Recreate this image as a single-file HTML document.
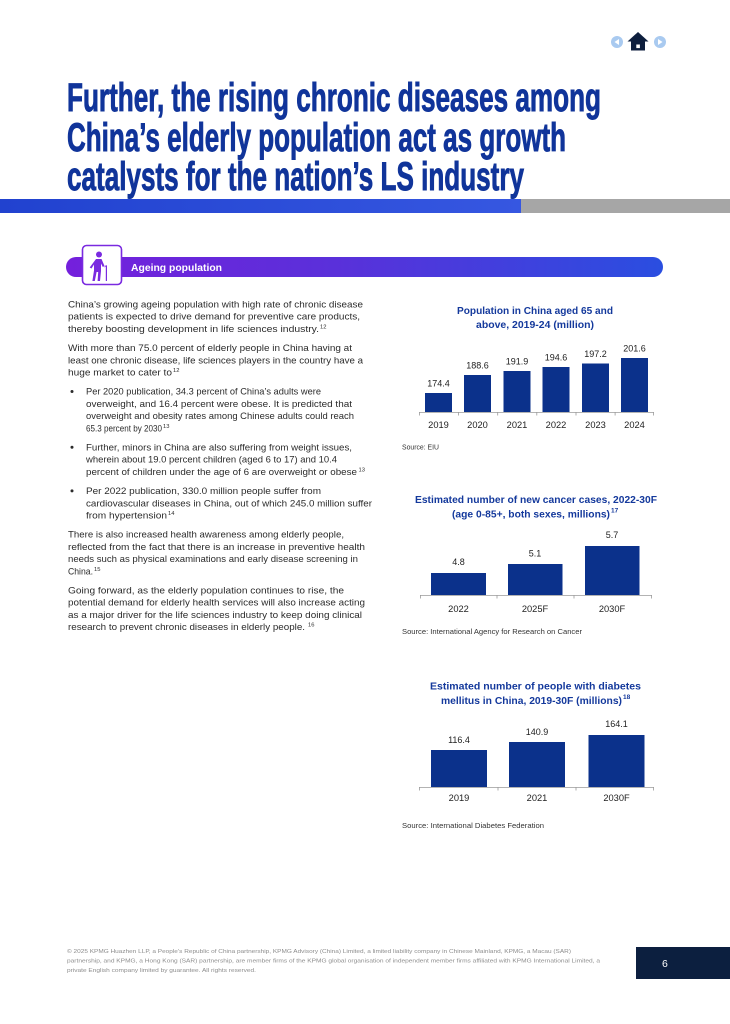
<!DOCTYPE html>
<html>
<head>
<meta charset="utf-8">
<style>
  html,body{margin:0;padding:0;background:#fff;}
  svg{display:block;}
  .body{font-family:"Liberation Sans",sans-serif;font-size:9.5px;fill:#2b2b2b;}
  .sup{font-family:"Liberation Sans",sans-serif;font-size:5.8px;fill:#2b2b2b;}
  .ct{font-family:"Liberation Sans",sans-serif;font-size:10.5px;font-weight:bold;fill:#14399c;}
  .cts{font-family:"Liberation Sans",sans-serif;font-size:6.5px;font-weight:bold;fill:#14399c;}
  .val{font-family:"Liberation Sans",sans-serif;font-size:9px;fill:#222;}
  .xl{font-family:"Liberation Sans",sans-serif;font-size:9.3px;fill:#222;}
  .src{font-family:"Liberation Sans",sans-serif;font-size:7.3px;fill:#333;}
  .ft{font-family:"Liberation Sans",sans-serif;font-size:5.6px;fill:#8d8d8d;}
  .ttl{font-family:"Liberation Sans Narrow","Liberation Sans",sans-serif;font-size:40px;font-weight:bold;fill:#10349a;stroke:#10349a;stroke-width:0.9px;}
</style>
</head>
<body>
<svg width="730" height="1024" viewBox="0 0 730 1024" xmlns="http://www.w3.org/2000/svg">
  <defs>
    <linearGradient id="gb" x1="0" x2="1" y1="0" y2="0">
      <stop offset="0" stop-color="#2142cf"/>
      <stop offset="1" stop-color="#3657e1"/>
    </linearGradient>
    <linearGradient id="gp" x1="0" x2="1" y1="0" y2="0">
      <stop offset="0" stop-color="#7420dc"/>
      <stop offset="0.45" stop-color="#5a30da"/>
      <stop offset="1" stop-color="#2a4ee0"/>
    </linearGradient>
  </defs>

  <!-- nav icons -->
  <circle cx="617" cy="42" r="6" fill="#a9caf0"/>
  <polygon points="614.5,42 619,39 619,45" fill="#fff"/>
  <polygon points="627.5,41.5 638,32 648.5,41.5" fill="#0d1e3d"/>
  <rect x="631" y="40" width="14" height="10.5" fill="#0d1e3d"/>
  <rect x="636.3" y="44.5" width="3.6" height="3.6" fill="#fff"/>
  <circle cx="660" cy="42" r="6" fill="#a9caf0"/>
  <polygon points="662.5,42 658,39 658,45" fill="#fff"/>

  <!-- title -->
  <text class="ttl" x="67" y="111" textLength="534" lengthAdjust="spacingAndGlyphs">Further, the rising chronic diseases among</text>
  <text class="ttl" x="67" y="151" textLength="499" lengthAdjust="spacingAndGlyphs">China’s elderly population act as growth</text>
  <text class="ttl" x="67" y="190" textLength="457" lengthAdjust="spacingAndGlyphs">catalysts for the nation’s LS industry</text>

  <!-- blue/gray bar -->
  <rect x="0" y="199" width="521" height="14" fill="url(#gb)"/>
  <rect x="521" y="199" width="209" height="14" fill="#a6a6a6"/>

  <!-- section header -->
  <rect x="66" y="257" width="597" height="20" rx="10" ry="10" fill="url(#gp)"/>
  <rect x="82.5" y="245.5" width="39" height="39" rx="4" ry="4" fill="#fff" stroke="#7a2ae0" stroke-width="1.6"/>
  <g fill="#7a2ae0">
    <circle cx="99" cy="254.5" r="3"/>
    <path d="M96 259 L101.5 259 L104.5 266 L102.8 267 L101 263.5 L101 271 L100 281 L97.6 281 L98.2 272 L96.6 272 L94.8 281 L92.4 281 L94 270.5 L94 264.5 L91.5 268.5 L89.7 267.5 Z"/>
    <path d="M104.3 267 Q105.5 264.5 107 265.5 L107 281 L105.8 281 L105.8 266.6 Q105.2 266.2 104.9 267.4 Z"/>
  </g>
  <text x="131" y="271" font-family="Liberation Sans, sans-serif" font-size="10px" font-weight="bold" fill="#fff" textLength="91" lengthAdjust="spacingAndGlyphs">Ageing population</text>

  <!-- body text -->
  <g class="body">
    <text x="68" y="307.5" textLength="295" lengthAdjust="spacingAndGlyphs">China’s growing ageing population with high rate of chronic disease</text>
    <text x="68" y="319.7" textLength="292" lengthAdjust="spacingAndGlyphs">patients is expected to drive demand for preventive care products,</text>
    <text x="68" y="331.9" textLength="251" lengthAdjust="spacingAndGlyphs">thereby boosting development in life sciences industry.</text>

    <text x="68" y="351.1" textLength="284" lengthAdjust="spacingAndGlyphs">With more than 75.0 percent of elderly people in China having at</text>
    <text x="68" y="363.3" textLength="295" lengthAdjust="spacingAndGlyphs">least one chronic disease, life sciences players in the country have a</text>
    <text x="68" y="375.5" textLength="104" lengthAdjust="spacingAndGlyphs">huge market to cater to</text>

    <text x="86" y="394.7" textLength="235" lengthAdjust="spacingAndGlyphs">Per 2020 publication, 34.3 percent of China’s adults were</text>
    <text x="86" y="406.9" textLength="266" lengthAdjust="spacingAndGlyphs">overweight, and 16.4 percent were obese. It is predicted that</text>
    <text x="86" y="419.1" textLength="268" lengthAdjust="spacingAndGlyphs">overweight and obesity rates among Chinese adults could reach</text>
    <text x="86" y="431.3" textLength="76" lengthAdjust="spacingAndGlyphs">65.3 percent by 2030</text>

    <text x="86" y="450.5" textLength="266" lengthAdjust="spacingAndGlyphs">Further, minors in China are also suffering from weight issues,</text>
    <text x="86" y="462.7" textLength="251" lengthAdjust="spacingAndGlyphs">wherein about 19.0 percent children (aged 6 to 17) and 10.4</text>
    <text x="86" y="474.9" textLength="271" lengthAdjust="spacingAndGlyphs">percent of children under the age of 6 are overweight or obese</text>

    <text x="86" y="494.1" textLength="235" lengthAdjust="spacingAndGlyphs">Per 2022 publication, 330.0 million people suffer from</text>
    <text x="86" y="506.3" textLength="286" lengthAdjust="spacingAndGlyphs">cardiovascular diseases in China, out of which 245.0 million suffer</text>
    <text x="86" y="518.5" textLength="81" lengthAdjust="spacingAndGlyphs">from hypertension</text>

    <text x="68" y="537.7" textLength="276" lengthAdjust="spacingAndGlyphs">There is also increased health awareness among elderly people,</text>
    <text x="68" y="549.9" textLength="297" lengthAdjust="spacingAndGlyphs">reflected from the fact that there is an increase in preventive health</text>
    <text x="68" y="562.1" textLength="290" lengthAdjust="spacingAndGlyphs">needs such as physical examinations and early disease screening in</text>
    <text x="68" y="574.3" textLength="25" lengthAdjust="spacingAndGlyphs">China.</text>

    <text x="68" y="593.5" textLength="276" lengthAdjust="spacingAndGlyphs">Going forward, as the elderly population continues to rise, the</text>
    <text x="68" y="605.7" textLength="297" lengthAdjust="spacingAndGlyphs">potential demand for elderly health services will also increase acting</text>
    <text x="68" y="617.9" textLength="294" lengthAdjust="spacingAndGlyphs">as a major driver for the life sciences industry to keep doing clinical</text>
    <text x="68" y="630.1" textLength="237" lengthAdjust="spacingAndGlyphs">research to prevent chronic diseases in elderly people.</text>
  </g>
  <g class="sup">
    <text x="320" y="328.5">12</text>
    <text x="173" y="372">12</text>
    <text x="163" y="428">13</text>
    <text x="358.5" y="471.5">13</text>
    <text x="168" y="515">14</text>
    <text x="94" y="571">15</text>
    <text x="308" y="626.7">16</text>
  </g>
  <g fill="#2b2b2b">
    <circle cx="72" cy="391.5" r="1.5"/>
    <circle cx="72" cy="447.3" r="1.5"/>
    <circle cx="72" cy="490.9" r="1.5"/>
  </g>

  <!-- Chart 1 -->
  <text class="ct" x="535" y="314" text-anchor="middle" textLength="156" lengthAdjust="spacingAndGlyphs">Population in China aged 65 and</text>
  <text class="ct" x="535" y="328" text-anchor="middle" textLength="118" lengthAdjust="spacingAndGlyphs">above, 2019-24 (million)</text>
  <g fill="#0b318b">
    <rect x="425" y="393" width="27" height="19"/>
    <rect x="464" y="375" width="27" height="37"/>
    <rect x="503.5" y="371" width="27" height="41"/>
    <rect x="542.5" y="367" width="27" height="45"/>
    <rect x="582" y="363.5" width="27" height="48.5"/>
    <rect x="621" y="358" width="27" height="54"/>
  </g>
  <g stroke="#9a9a9a" stroke-width="0.8" fill="none">
    <line x1="419" y1="412.4" x2="654" y2="412.4"/>
    <line x1="419.4" y1="412" x2="419.4" y2="415.5"/>
    <line x1="458.5" y1="412" x2="458.5" y2="415.5"/>
    <line x1="497.7" y1="412" x2="497.7" y2="415.5"/>
    <line x1="536.8" y1="412" x2="536.8" y2="415.5"/>
    <line x1="576" y1="412" x2="576" y2="415.5"/>
    <line x1="615.1" y1="412" x2="615.1" y2="415.5"/>
    <line x1="653.6" y1="412" x2="653.6" y2="415.5"/>
  </g>
  <g class="val" text-anchor="middle">
    <text x="438.5" y="386.5">174.4</text>
    <text x="477.5" y="368.5">188.6</text>
    <text x="517" y="364.5">191.9</text>
    <text x="556" y="360.5">194.6</text>
    <text x="595.5" y="357">197.2</text>
    <text x="634.5" y="351.5">201.6</text>
  </g>
  <g class="xl" text-anchor="middle">
    <text x="438.5" y="428">2019</text>
    <text x="477.5" y="428">2020</text>
    <text x="517" y="428">2021</text>
    <text x="556" y="428">2022</text>
    <text x="595.5" y="428">2023</text>
    <text x="634.5" y="428">2024</text>
  </g>
  <text class="src" x="402" y="449.5" textLength="37" lengthAdjust="spacingAndGlyphs">Source: EIU</text>

  <!-- Chart 2 -->
  <text class="ct" x="536" y="503" text-anchor="middle" textLength="242" lengthAdjust="spacingAndGlyphs">Estimated number of new cancer cases, 2022-30F</text>
  <text class="ct" x="452" y="517.5" textLength="158" lengthAdjust="spacingAndGlyphs">(age 0-85+, both sexes, millions)</text>
  <text class="cts" x="611" y="512.5">17</text>
  <g fill="#0b318b">
    <rect x="431" y="573" width="55" height="22"/>
    <rect x="508" y="564" width="54.5" height="31"/>
    <rect x="585" y="546" width="54.5" height="49"/>
  </g>
  <g stroke="#9a9a9a" stroke-width="0.8" fill="none">
    <line x1="420" y1="595.4" x2="652" y2="595.4"/>
    <line x1="420.4" y1="595" x2="420.4" y2="598.5"/>
    <line x1="497" y1="595" x2="497" y2="598.5"/>
    <line x1="574" y1="595" x2="574" y2="598.5"/>
    <line x1="651.6" y1="595" x2="651.6" y2="598.5"/>
  </g>
  <g class="val" text-anchor="middle">
    <text x="458.5" y="565">4.8</text>
    <text x="535" y="556.5">5.1</text>
    <text x="612" y="538">5.7</text>
  </g>
  <g class="xl" text-anchor="middle">
    <text x="458.5" y="612">2022</text>
    <text x="535" y="612">2025F</text>
    <text x="612" y="612">2030F</text>
  </g>
  <text class="src" x="402" y="634" textLength="180" lengthAdjust="spacingAndGlyphs">Source: International Agency for Research on Cancer</text>

  <!-- Chart 3 -->
  <text class="ct" x="535.5" y="689.5" text-anchor="middle" textLength="211" lengthAdjust="spacingAndGlyphs">Estimated number of people with diabetes</text>
  <text class="ct" x="441" y="704" textLength="181" lengthAdjust="spacingAndGlyphs">mellitus in China, 2019-30F (millions)</text>
  <text class="cts" x="623" y="699">18</text>
  <g fill="#0b318b">
    <rect x="431" y="750" width="56" height="37"/>
    <rect x="509" y="742" width="56" height="45"/>
    <rect x="588.5" y="735" width="56" height="52"/>
  </g>
  <g stroke="#9a9a9a" stroke-width="0.8" fill="none">
    <line x1="419" y1="787.4" x2="654" y2="787.4"/>
    <line x1="419.4" y1="787" x2="419.4" y2="790.5"/>
    <line x1="498" y1="787" x2="498" y2="790.5"/>
    <line x1="576" y1="787" x2="576" y2="790.5"/>
    <line x1="653.6" y1="787" x2="653.6" y2="790.5"/>
  </g>
  <g class="val" text-anchor="middle">
    <text x="459" y="743">116.4</text>
    <text x="537" y="735">140.9</text>
    <text x="616.5" y="727">164.1</text>
  </g>
  <g class="xl" text-anchor="middle">
    <text x="459" y="801">2019</text>
    <text x="537" y="801">2021</text>
    <text x="616.5" y="801">2030F</text>
  </g>
  <text class="src" x="402" y="828" textLength="142" lengthAdjust="spacingAndGlyphs">Source: International Diabetes Federation</text>

  <!-- footer -->
  <g class="ft">
    <text x="67" y="953" textLength="504" lengthAdjust="spacingAndGlyphs">© 2025 KPMG Huazhen LLP, a People’s Republic of China partnership, KPMG Advisory (China) Limited, a limited liability company in Chinese Mainland, KPMG, a Macau (SAR)</text>
    <text x="67" y="962.5" textLength="533" lengthAdjust="spacingAndGlyphs">partnership, and KPMG, a Hong Kong (SAR) partnership, are member firms of the KPMG global organisation of independent member firms affiliated with KPMG International Limited, a</text>
    <text x="67" y="972" textLength="189" lengthAdjust="spacingAndGlyphs">private English company limited by guarantee. All rights reserved.</text>
  </g>
  <rect x="636" y="947" width="94" height="32" fill="#0c1f3f"/>
  <text x="662" y="967" font-family="Liberation Sans, sans-serif" font-size="10.5px" fill="#fff">6</text>
</svg>
</body>
</html>
